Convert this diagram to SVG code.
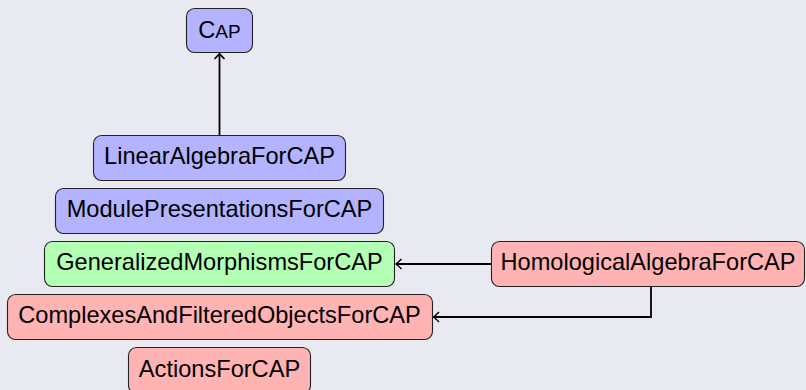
<svg xmlns="http://www.w3.org/2000/svg" width="806" height="390" viewBox="0 0 806 390">
<defs>
<style>
.box{stroke:#222;stroke-width:1.1}
.blue{fill:#b3b3ff}
.green{fill:#b3ffb3}
.red{fill:#ffb3b3}
text{font-family:"Liberation Sans",Arial,sans-serif;font-size:23.6px;fill:#000;text-anchor:middle}
.edge{fill:none;stroke:#000;stroke-width:1.8}
</style>
<marker id="arr" markerUnits="userSpaceOnUse" markerWidth="14" markerHeight="14" viewBox="-8 -7 10 14" refX="0" refY="0" orient="auto">
<path d="M -5.5 -5 Q -1.5 -1 0 0 Q -1.5 1 -5.5 5" fill="none" stroke="#000" stroke-width="1.5"/>
</marker>
</defs>
<rect width="806" height="390" fill="#e9e9f2"/>
<g id="edges">
<path class="edge" d="M 219.5 135.5 V 53.5" marker-end="url(#arr)"/>
<path class="edge" d="M 491 264 H 396" marker-end="url(#arr)"/>
<path class="edge" d="M 651 286 V 317 H 433.5" marker-end="url(#arr)"/>
</g>
<g id="cap">
<rect class="box blue" x="186.5" y="8.5" width="66" height="44" rx="8"/>
<text x="219.5" y="38.3">C<tspan font-size="19">AP</tspan></text>
</g>
<g id="linear">
<rect class="box blue" x="93.5" y="135.5" width="252" height="45" rx="8"/>
<text x="219.5" y="164.3">LinearAlgebraForCAP</text>
</g>
<g id="module">
<rect class="box blue" x="55.5" y="188.5" width="328" height="45" rx="8"/>
<text x="219.5" y="217.3">ModulePresentationsForCAP</text>
</g>
<g id="generalized">
<rect class="box green" x="44.5" y="241.5" width="350" height="45" rx="8"/>
<text x="219.5" y="270.3">GeneralizedMorphismsForCAP</text>
</g>
<g id="homological">
<rect class="box red" x="491.5" y="241.5" width="313" height="45" rx="8"/>
<text x="648" y="270.3">HomologicalAlgebraForCAP</text>
</g>
<g id="complexes">
<rect class="box red" x="7.5" y="294.5" width="425" height="45" rx="8"/>
<text x="219.5" y="322.7">ComplexesAndFilteredObjectsForCAP</text>
</g>
<g id="actions">
<rect class="box red" x="128.5" y="347.5" width="182" height="46" rx="8"/>
<text x="219.5" y="376.5">ActionsForCAP</text>
</g>
</svg>
